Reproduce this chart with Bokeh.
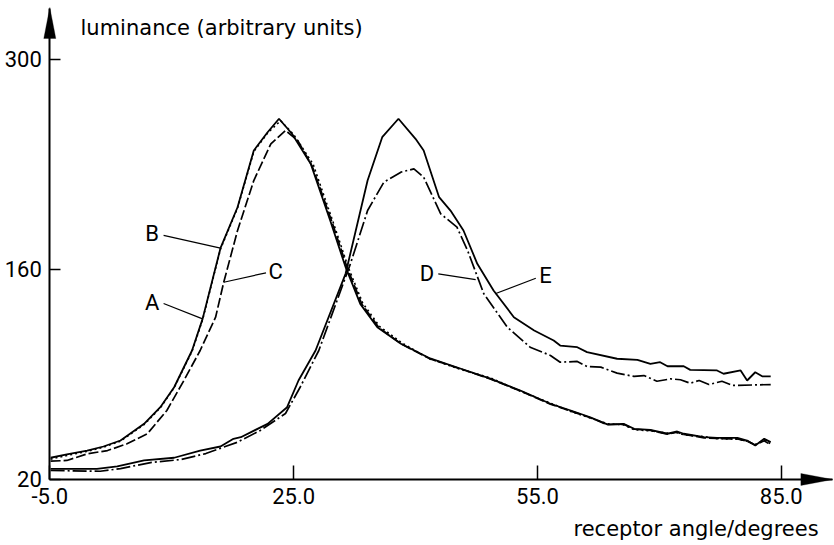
from bokeh.plotting import figure
from bokeh.models import (Range1d, LinearAxis, FixedTicker, PrintfTickFormatter,
                          Label, PolyAnnotation)
from bokeh.core.properties import value
from bokeh.embed import file_html
from bokeh.resources import INLINE

TITLE_FONT = "DejaVu Sans"
NUM_FONT = "Roboto"

# Receptor angle (degrees) and luminance (arbitrary units) for the five scans
A_x = [-4.9, -2.9, -0.4, 1.6, 3.7, 6.6, 8.6, 10.3, 12.5, 13.8, 16.0, 18.1, 20.1, 21.8, 23.2,
       24.8, 27.1, 29.5, 31.4, 33.2, 35.3, 38.2, 41.8, 45.5, 49.2, 52.9, 56.6, 59.1, 61.5,
       63.6, 65.6, 66.9, 68.9, 71.0, 72.2, 73.0, 75.5, 77.1, 79.6, 80.8, 81.8, 82.9, 83.7]
A_y = [34.5, 36.7, 39.3, 42.0, 46.0, 57.1, 68.2, 81.5, 106.0, 127.1, 174.2, 201.5, 239.3, 251.5, 260.5,
       250.5, 230.5, 192.7, 161.5, 137.1, 121.5, 110.5, 100.7, 94.0, 87.3, 79.3, 70.5, 66.0, 61.5,
       56.7, 57.1, 53.8, 53.1, 50.5, 52.0, 50.5, 48.2, 47.8, 47.8, 46.0, 42.7, 47.1, 44.9]

B_x = [-4.9, -2.9, -0.4, 1.6, 3.7, 6.6, 8.6, 10.3, 12.5, 13.8, 16.0, 18.1, 20.1, 21.8, 23.4,
       25.0, 27.4, 29.8, 31.7, 33.5, 35.6, 38.4, 41.8, 45.5, 49.2, 52.9, 56.6, 59.1, 61.5,
       63.6, 65.6, 66.9, 68.9, 71.0, 72.2, 73.0, 75.5, 77.1, 79.6, 80.8, 81.8, 82.9, 83.7]
B_y = [33.6, 36.0, 38.8, 41.5, 45.6, 56.6, 67.8, 81.2, 105.4, 126.5, 173.6, 201.0, 238.6, 251.0, 259.2,
       250.0, 230.2, 192.5, 161.8, 137.6, 121.9, 110.8, 100.3, 93.5, 87.8, 78.9, 70.9, 65.4, 61.0,
       57.2, 56.4, 53.2, 52.4, 50.9, 51.2, 49.8, 48.6, 47.2, 46.9, 45.5, 43.4, 46.2, 43.8]

C_x = [-4.9, -2.9, -0.4, 2.1, 4.5, 7.0, 9.4, 11.5, 13.5, 15.4, 16.4, 18.1, 20.1, 22.2, 24.0,
       25.5, 27.3, 29.7, 31.6, 33.4, 35.5, 38.3, 41.8, 45.5, 49.2, 52.9, 56.6, 59.1, 61.5,
       63.6, 65.6, 66.9, 68.9, 71.0, 72.2, 73.0, 75.5, 77.1, 79.6, 80.8, 81.8, 82.9, 83.7]
C_y = [32.2, 32.7, 37.1, 39.3, 43.8, 50.5, 66.0, 86.0, 106.0, 128.2, 151.5, 186.0, 219.3, 243.8, 252.7,
       246.0, 228.7, 192.0, 161.0, 136.8, 121.2, 110.2, 100.4, 93.8, 87.0, 79.0, 70.2, 65.6, 61.2,
       56.5, 56.8, 53.5, 52.8, 50.2, 51.5, 50.0, 47.8, 47.4, 47.0, 45.6, 43.0, 45.8, 43.0]

D_x = [-4.9, 1.2, 3.7, 7.4, 11.1, 14.2, 18.1, 20.9, 24.0, 25.8, 28.1, 32.0, 34.1, 36.1, 38.2,
       39.8, 41.0, 43.1, 45.1, 46.4, 48.4, 51.3, 54.1, 56.6, 57.8, 59.9, 61.1, 62.8, 64.8,
       66.9, 68.1, 69.7, 71.4, 72.6, 73.8, 74.9, 76.1, 77.7, 79.0, 83.7]
D_y = [26.0, 25.5, 27.3, 31.3, 33.3, 37.3, 44.9, 52.7, 64.0, 81.5, 106.0, 164.0, 199.3, 218.2, 224.9,
       227.1, 221.5, 197.1, 188.2, 172.7, 143.8, 121.5, 108.2, 102.7, 98.2, 98.7, 95.3, 94.9, 90.9,
       88.7, 89.3, 85.5, 87.1, 86.5, 84.2, 86.0, 83.3, 85.5, 82.7, 83.3]

E_x = [-4.9, 0.8, 3.3, 6.6, 10.3, 13.5, 16.0, 17.6, 18.5, 21.8, 24.2, 25.6, 27.7, 31.4, 34.1,
       35.9, 37.9, 40.0, 41.0, 42.9, 44.3, 45.9, 47.6, 49.6, 52.1, 54.6, 57.0, 57.8, 59.9,
       61.1, 64.8, 67.3, 68.9, 70.1, 71.0, 73.0, 73.8, 77.1, 77.9, 80.0, 80.8, 81.8, 82.7, 83.7]
E_y = [27.1, 27.1, 28.7, 32.7, 34.5, 39.3, 42.0, 47.1, 48.2, 57.1, 68.2, 86.0, 106.0, 157.3, 219.3,
       248.2, 260.5, 247.1, 239.3, 208.2, 199.3, 186.0, 163.8, 146.0, 128.2, 119.3, 112.7, 109.3, 108.2,
       104.9, 100.5, 99.8, 97.1, 98.2, 95.5, 95.5, 93.1, 92.7, 90.5, 92.7, 86.0, 91.5, 88.7, 88.7]

x_ticks = [-5, 25, 55, 85]
y_ticks = [20, 160, 300]
X_MIN, Y_MIN = -5, 20

# curve letters: name, label position, leader line start and end
curve_labels = ["A", "B", "C", "D", "E"]
label_x = [7.6, 7.6, 22.8, 41.4, 56.0]
label_y = [138.2, 183.8, 158.9, 157.5, 156.0]
leader_x0 = [9.0, 9.0, 21.6, 42.8, 54.8]
leader_y0 = [137.3, 182.7, 157.8, 157.1, 154.2]
leader_x1 = [13.8, 16.0, 16.4, 47.4, 49.8]
leader_y1 = [127.1, 174.2, 151.5, 153.3, 143.8]

# the frame fills the whole canvas; axes sit at fixed data locations inside it
p = figure(width=834, height=545, output_backend="svg", toolbar_location=None,
           x_range=Range1d(-11.066, 91.55), y_range=Range1d(-24.0, 339.33),
           x_axis_type=None, y_axis_type=None,
           min_border_left=0, min_border_right=0, min_border_top=0, min_border_bottom=0)
p.outline_line_color = None
p.background_fill_color = "white"
p.border_fill_color = "white"

xaxis = LinearAxis(ticker=FixedTicker(ticks=x_ticks),
                   formatter=PrintfTickFormatter(format="%.1f"),
                   bounds=(X_MIN, 91.3), fixed_location=Y_MIN)
yaxis = LinearAxis(ticker=FixedTicker(ticks=y_ticks), bounds=(Y_MIN, 334.0),
                   fixed_location=X_MIN)
for ax in (xaxis, yaxis):
    ax.axis_line_width = 2
    ax.axis_line_color = "black"
    ax.major_tick_line_width = 1.5
    ax.major_tick_line_color = "black"
    ax.major_tick_out = 0
    ax.minor_tick_in = 0
    ax.minor_tick_out = 0
    ax.major_label_text_font = NUM_FONT
    ax.major_label_text_font_size = "22px"
    ax.major_label_text_color = "black"
xaxis.major_tick_in = 14
xaxis.major_label_standoff = 9
yaxis.major_tick_in = 11
yaxis.major_label_standoff = 8
p.add_layout(xaxis, "below")
p.add_layout(yaxis, "left")

# arrow heads closing both axes
p.add_layout(PolyAnnotation(xs=[-5.74, -5.0, -4.26], ys=[314.0, 334.67, 314.0],
                            fill_color="black", fill_alpha=1, line_color="black", line_width=1))
p.add_layout(PolyAnnotation(xs=[87.41, 91.35, 87.41], ys=[16.0, 20.0, 24.0],
                            fill_color="black", fill_alpha=1, line_color="black", line_width=1))

# the five scans
p.line(A_x, A_y, line_color="black", line_width=1.8)
p.line(B_x, B_y, line_color="black", line_width=1.6, line_dash="2 3")
p.line(C_x, C_y, line_color="black", line_width=1.7, line_dash="10 3")
p.line(D_x, D_y, line_color="black", line_width=1.7, line_dash="14 3 2 3")
p.line(E_x, E_y, line_color="black", line_width=1.8)

# curve letters with leader lines
p.segment(x0=leader_x0, y0=leader_y0, x1=leader_x1, y1=leader_y1,
          line_color="black", line_width=1.2)
p.text(x=label_x, y=label_y, text=curve_labels, text_font=value(NUM_FONT),
       text_font_size="22px", text_align="center", text_baseline="middle",
       text_color="black")

# axis titles
p.add_layout(Label(x=-1.22, y=321.3, text="luminance (arbitrary units)",
                   text_font=TITLE_FONT, text_font_size="21px", text_align="left",
                   text_baseline="middle", text_color="black"))
p.add_layout(Label(x=89.6, y=-12.7, text="receptor angle/degrees",
                   text_font=TITLE_FONT, text_font_size="21px", text_align="right",
                   text_baseline="middle", text_color="black"))

open("out.html", "w").write(file_html(p, INLINE))
